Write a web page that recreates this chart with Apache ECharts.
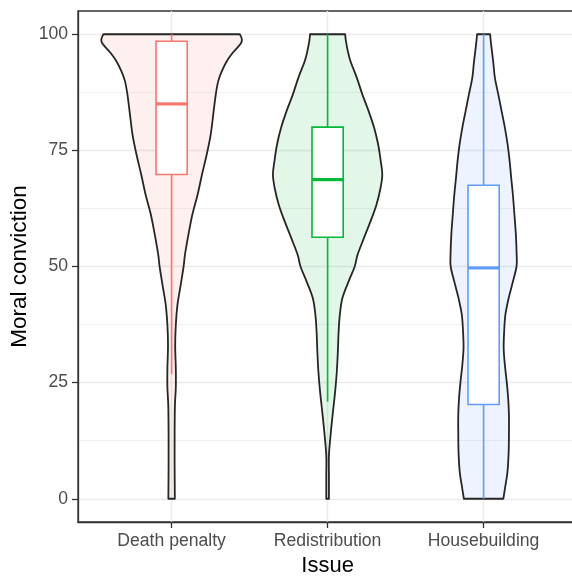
<!DOCTYPE html>
<html><head><meta charset="utf-8">
<script src="https://cdn.jsdelivr.net/npm/echarts@6/dist/echarts.min.js"></script>
<style>html,body{margin:0;padding:0;background:#fff}#c{width:572px;height:577px}</style>
</head><body><div id="c"></div>
<script>
const categories = ['Death penalty', 'Redistribution', 'Housebuilding'];
const colors = ['#F8766D', '#00BA38', '#619CFF'];
const yTicks = [0, 25, 50, 75, 100];
const yMinorTicks = [12.5, 37.5, 62.5, 87.5];

// Violin outlines: value levels (top to bottom) and relative density width (max = 1)
const deathLevels  = [100, 99, 98, 96, 94.2, 92, 89.9, 87, 82.7, 78.4, 74.1, 69.8, 65.5, 61.2, 56.8, 52.5, 50, 46, 41.7, 37.4, 33, 28, 24, 20, 14, 7, 0];
const deathDensity = [0.971, 1.0, 0.986, 0.871, 0.786, 0.714, 0.664, 0.629, 0.593, 0.557, 0.5, 0.433, 0.371, 0.296, 0.239, 0.19, 0.171, 0.129, 0.083, 0.06, 0.051, 0.06, 0.06, 0.047, 0.043, 0.043, 0.046];

const redisLevels  = [100, 98.5, 96.3, 94.2, 90.6, 87, 83.4, 79.8, 76.2, 72.7, 69.8, 66.9, 63.3, 59.7, 56.1, 52.5, 50, 46.7, 43.2, 39.6, 36, 31.7, 27.3, 23, 18.7, 14.4, 9.4, 5, 0];
const redisDensity = [0.25, 0.261, 0.289, 0.326, 0.417, 0.496, 0.586, 0.664, 0.721, 0.757, 0.779, 0.754, 0.696, 0.611, 0.517, 0.426, 0.386, 0.297, 0.211, 0.174, 0.157, 0.146, 0.131, 0.107, 0.076, 0.047, 0.019, 0.019, 0.019];

const houseLevels  = [100, 97.8, 94.2, 90.6, 87, 83.4, 79.8, 76.2, 72.7, 69.1, 65.5, 61.2, 56.8, 52.5, 50, 46.7, 43.2, 39.6, 36, 32.4, 28.8, 25.2, 21.6, 18, 14.4, 10.1, 5.8, 2.2, 0];
const houseDensity = [0.093, 0.107, 0.136, 0.161, 0.21, 0.257, 0.304, 0.343, 0.371, 0.393, 0.417, 0.439, 0.46, 0.471, 0.469, 0.417, 0.357, 0.31, 0.293, 0.286, 0.303, 0.329, 0.35, 0.361, 0.361, 0.357, 0.34, 0.304, 0.281];

// Boxplot statistics per category
const boxMin    = [26.8, 20.9, 0];
const boxQ1     = [69.8, 56.3, 20.3];
const boxMedian = [85.0, 68.7, 49.7];
const boxQ3     = [98.5, 80.0, 67.5];
const boxMax    = [100, 100, 100];

const violinLevels = [deathLevels, redisLevels, houseLevels];
const violinDensity = [deathDensity, redisDensity, houseDensity];

const FONT = '"Liberation Sans", Arial, sans-serif';
const VIOLIN_HALF = 0.45;
const BOX_HALF = 0.1;

function rgba(hex, a) {
  const n = parseInt(hex.slice(1), 16);
  return 'rgba(' + ((n >> 16) & 255) + ',' + ((n >> 8) & 255) + ',' + (n & 255) + ',' + a + ')';
}

function bezierPath(pts, start) {
  let d = start ? ('M' + pts[0][0] + ' ' + pts[0][1]) : ('L' + pts[0][0] + ' ' + pts[0][1]);
  const n = pts.length;
  for (let i = 0; i < n - 1; i++) {
    const p0 = pts[Math.max(i - 1, 0)], p1 = pts[i], p2 = pts[i + 1], p3 = pts[Math.min(i + 2, n - 1)];
    const c1x = p1[0] + (p2[0] - p0[0]) / 6, c1y = p1[1] + (p2[1] - p0[1]) / 6;
    const c2x = p2[0] - (p3[0] - p1[0]) / 6, c2y = p2[1] - (p3[1] - p1[1]) / 6;
    d += ' C' + c1x + ' ' + c1y + ' ' + c2x + ' ' + c2y + ' ' + p2[0] + ' ' + p2[1];
  }
  return d;
}

function violinItem(params, api) {
  const i = Math.round(api.value(0));
  const lv = violinLevels[i], dn = violinDensity[i];
  const unit = api.size([1, 0])[0];
  const cx = api.coord([i, 0])[0];
  const left = [], right = [];
  for (let k = 0; k < lv.length; k++) {
    const y = api.coord([i, lv[k]])[1];
    const hw = dn[k] * VIOLIN_HALF * unit;
    left.push([cx - hw, y]);
    right.push([cx + hw, y]);
  }
  right.reverse();
  const d = bezierPath(left, true) + ' ' + bezierPath(right, false) + ' Z';
  return {
    type: 'path',
    shape: { pathData: d },
    style: { fill: rgba(colors[i], 0.11), stroke: '#262626', lineWidth: 1.8, lineJoin: 'round' }
  };
}

function boxItem(params, api) {
  const i = Math.round(api.value(0));
  const unit = api.size([1, 0])[0];
  const cx = api.coord([i, 0])[0];
  const hw = BOX_HALF * unit;
  const yMin = api.coord([i, boxMin[i]])[1];
  const yQ1 = api.coord([i, boxQ1[i]])[1];
  const yMed = api.coord([i, boxMedian[i]])[1];
  const yQ3 = api.coord([i, boxQ3[i]])[1];
  const yMax = api.coord([i, boxMax[i]])[1];
  const c = colors[i];
  return {
    type: 'group',
    children: [
      { type: 'line', shape: { x1: cx, y1: yQ3, x2: cx, y2: yMax }, style: { stroke: c, lineWidth: 1.6 } },
      { type: 'line', shape: { x1: cx, y1: yQ1, x2: cx, y2: yMin }, style: { stroke: c, lineWidth: 1.6 } },
      { type: 'rect', shape: { x: cx - hw, y: yQ3, width: 2 * hw, height: yQ1 - yQ3 }, style: { fill: '#ffffff', stroke: c, lineWidth: 1.6 } },
      { type: 'line', shape: { x1: cx - hw, y1: yMed, x2: cx + hw, y2: yMed }, style: { stroke: c, lineWidth: 3.2 } }
    ]
  };
}

const chart = echarts.init(document.getElementById('c'), null, { renderer: 'canvas' });
chart.setOption({
  animation: false,
  backgroundColor: '#ffffff',
  grid: {
    left: 78, top: 11, width: 499.2, height: 511,
    containLabel: false, outerBoundsMode: 'none',
    show: true, borderColor: '#333333', borderWidth: 1.3, backgroundColor: 'transparent'
  },
  xAxis: {
    type: 'value', min: -0.6, max: 2.6,
    name: 'Issue', nameLocation: 'middle', nameGap: 33, nameMoveOverlap: false,
    nameTextStyle: { fontSize: 22, color: '#000000', fontFamily: FONT },
    axisLine: { show: true, onZero: false, lineStyle: { color: '#333333', width: 1.3 } },
    axisTick: { show: true, length: 6, customValues: [0, 1, 2], lineStyle: { color: '#333333', width: 1.3 } },
    axisLabel: { customValues: [0, 1, 2], formatter: v => categories[Math.round(v)], fontSize: 17.6, color: '#4D4D4D', fontFamily: FONT, margin: 10 },
    splitLine: { show: true, lineStyle: { color: '#EBEBEB', width: 1.4 } }
  },
  yAxis: [{
    type: 'value', min: -5, max: 105,
    name: 'Moral conviction', nameLocation: 'middle', nameGap: 47, nameMoveOverlap: false,
    nameTextStyle: { fontSize: 22.5, color: '#000000', fontFamily: FONT },
    axisLine: { show: true, onZero: false, lineStyle: { color: '#333333', width: 1.3 } },
    axisTick: { show: true, length: 6, customValues: yTicks, lineStyle: { color: '#333333', width: 1.3 } },
    axisLabel: { customValues: yTicks, fontSize: 17.6, color: '#4D4D4D', fontFamily: FONT, margin: 10 },
    splitLine: { show: true, lineStyle: { color: '#EBEBEB', width: 1.4 } }
  }, {
    type: 'value', min: -5, max: 105, position: 'right',
    axisLine: { show: false, onZero: false },
    axisTick: { show: false, customValues: yMinorTicks },
    axisLabel: { show: false, customValues: yMinorTicks },
    splitLine: { show: true, lineStyle: { color: '#EDEDED', width: 0.8 } }
  }],
  series: [{
    type: 'custom', name: 'violin', yAxisIndex: 0,
    renderItem: violinItem,
    data: categories.map((c, i) => [i, boxMedian[i]]),
    z: 2
  }, {
    type: 'custom', name: 'box', yAxisIndex: 0,
    renderItem: boxItem,
    data: categories.map((c, i) => [i, boxMedian[i]]),
    z: 3
  }]
});
</script>
</body></html>
